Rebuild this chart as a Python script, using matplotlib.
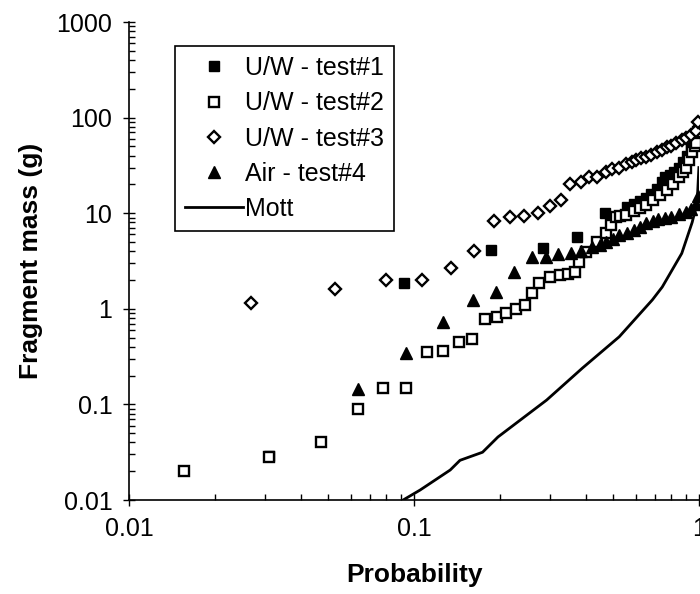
import numpy as np
import matplotlib
matplotlib.use('Agg')
import matplotlib.pyplot as plt
from matplotlib.ticker import LogLocator, FuncFormatter, NullFormatter

plt.rcParams['font.family'] = ['Liberation Sans', 'DejaVu Sans']

# U/W - test#1 (filled squares)
p1 = [0.031, 0.092, 0.186, 0.283, 0.372, 0.469, 0.56, 0.59, 0.62, 0.65, 0.68, 0.71,
      0.74, 0.76, 0.79, 0.82, 0.85, 0.88, 0.91, 0.94, 0.97, 0.99]
m1 = [0.029, 1.85, 4.1, 4.3, 5.6, 10, 11.6, 12.5, 13.5, 14.5, 16, 18,
      21, 24, 25, 27, 30, 34, 40, 48, 60, 75]

# U/W - test#2 (open squares)
p2 = [0.0156, 0.031, 0.047, 0.0634, 0.078, 0.094, 0.111, 0.126, 0.144, 0.16, 0.177,
      0.195, 0.21, 0.228, 0.245, 0.26, 0.275, 0.30, 0.324, 0.347, 0.366, 0.378,
      0.40, 0.437, 0.473, 0.49, 0.51, 0.53, 0.556, 0.59, 0.62, 0.65, 0.69, 0.73,
      0.77, 0.81, 0.85, 0.88, 0.90, 0.925, 0.946, 0.965, 0.98, 0.995]
m2 = [0.02, 0.028, 0.04, 0.09, 0.15, 0.15, 0.35, 0.36, 0.45, 0.48, 0.78,
      0.82, 0.9, 1.0, 1.1, 1.46, 1.86, 2.14, 2.25, 2.3, 2.4, 3.1,
      3.9, 5.0, 6.2, 7.5, 9.2, 9.4, 9.6, 10.5, 11.2, 12.3, 13.7, 15.5,
      17.5, 20, 24, 27, 30, 36, 44, 50, 54, 70]

# U/W - test#3 (open diamonds)
p3 = [0.0269, 0.053, 0.080, 0.107, 0.135, 0.163, 0.191, 0.217, 0.243, 0.273, 0.299,
      0.329, 0.354, 0.384, 0.412, 0.44, 0.473, 0.497, 0.525, 0.556, 0.58, 0.60,
      0.625, 0.65, 0.68, 0.71, 0.74, 0.77, 0.80, 0.83, 0.87, 0.90, 0.94, 0.98, 0.995]
m3 = [1.15, 1.6, 2.0, 2.0, 2.7, 4.0, 8.3, 9.1, 9.3, 10, 11.9,
      13.7, 20, 21, 24, 24, 27, 29, 30, 33, 34, 36,
      37.5, 39, 41, 44, 46, 49, 51, 54, 58, 61, 66, 72, 90]

# Air - test#4 (filled triangles)
p4 = [0.0637, 0.094, 0.126, 0.161, 0.194, 0.225, 0.26, 0.29, 0.32, 0.356, 0.387,
      0.42, 0.45, 0.473, 0.50, 0.525, 0.56, 0.59, 0.62, 0.65, 0.69, 0.72, 0.76,
      0.80, 0.85, 0.90, 0.94, 0.98, 0.995]
m4 = [0.145, 0.345, 0.72, 1.24, 1.5, 2.43, 3.5, 3.5, 3.7, 3.8, 4.0,
      4.4, 4.7, 5.0, 5.4, 5.9, 6.2, 6.6, 7.2, 7.9, 8.3, 8.6, 8.9,
      9.2, 9.8, 10.2, 11, 12.5, 15]

# Mott distribution
pm = [0.0916, 0.105, 0.134, 0.145, 0.174, 0.197, 0.292, 0.39, 0.525, 0.686, 0.743,
      0.87, 0.946, 0.985, 0.999]
mm = [0.01, 0.0127, 0.0206, 0.026, 0.0316, 0.0456, 0.111, 0.24, 0.51, 1.24, 1.69,
      3.8, 8, 12.8, 30]

fig = plt.figure(figsize=(7.0, 5.94), dpi=100)
ax = fig.add_axes([129/700., 94/594., 570/700., 478/594.])

ms = 7
ax.plot(p1, m1, ls='none', marker='s', ms=ms, mfc='k', mec='k', label='U/W - test#1')
ax.plot(p2, m2, ls='none', marker='s', ms=ms, mfc='white', mec='k', mew=1.7, label='U/W - test#2')
ax.plot(p3, m3, ls='none', marker='D', ms=ms-1, mfc='white', mec='k', mew=1.7, label='U/W - test#3')
ax.plot(p4, m4, ls='none', marker='^', ms=ms+1, mfc='k', mec='k', label='Air - test#4')
ax.plot(pm, mm, color='k', lw=2, label='Mott')

ax.set_xscale('log')
ax.set_yscale('log')
ax.set_xlim(0.01, 1)
ax.set_ylim(0.01, 1000)

fmt = FuncFormatter(lambda v, pos: '%g' % v)
ax.xaxis.set_major_formatter(fmt)
ax.yaxis.set_major_formatter(fmt)
ax.xaxis.set_minor_locator(LogLocator(base=10, subs=np.arange(2, 10)))
ax.yaxis.set_minor_locator(LogLocator(base=10, subs=np.arange(2, 10)))
ax.xaxis.set_minor_formatter(NullFormatter())
ax.yaxis.set_minor_formatter(NullFormatter())

ax.tick_params(which='major', direction='inout', length=8, width=1, labelsize=18, pad=8)
ax.tick_params(which='minor', direction='in', length=4, width=1)
ax.tick_params(top=False, right=False)

for s in ['top', 'right']:
    ax.spines[s].set_visible(False)
for s in ['left', 'bottom']:
    ax.spines[s].set_linewidth(1.2)

ax.set_xlabel('Probability', fontsize=19, fontweight='bold', labelpad=16)
ax.set_ylabel('Fragment mass (g)', fontsize=19, fontweight='bold', labelpad=10)

leg = ax.legend(loc='upper left', bbox_to_anchor=(175/700., 1 - 46/594.),
                bbox_transform=fig.transFigure, borderaxespad=0, fontsize=18,
                fancybox=False, edgecolor='k', framealpha=1, handlelength=2.3,
                handletextpad=0.1, labelspacing=0.45, borderpad=0.4)
leg.get_frame().set_linewidth(1.2)

plt.savefig('out.png')
